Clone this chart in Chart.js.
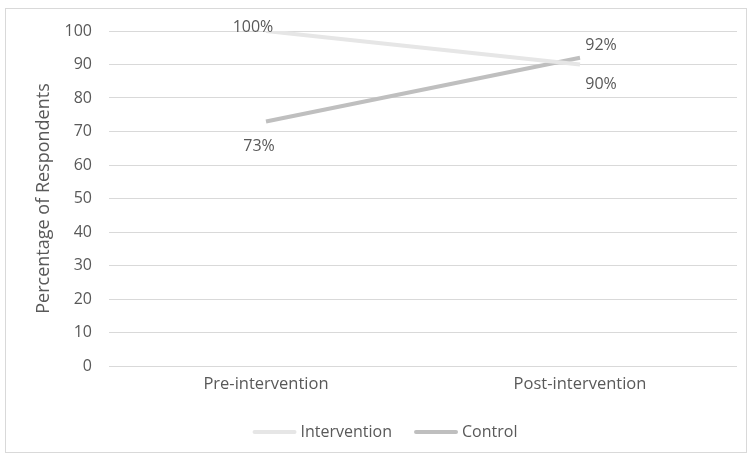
<!DOCTYPE html>
<html>
<head>
<meta charset="utf-8">
<script src="https://cdn.jsdelivr.net/npm/chart.js@4/dist/chart.umd.min.js"></script>
<style>
  html, body { margin: 0; padding: 0; background: #ffffff; }
  #wrap { position: relative; width: 751px; height: 458px; }
</style>
</head>
<body>
<div id="wrap"><canvas id="chart" width="751" height="458"></canvas></div>
<script>
// Survey periods and the share of respondents in each group
const categories = ['Pre-intervention', 'Post-intervention'];
const interventionValues = [100, 90];
const controlValues = [73, 92];
const yTicks = [0, 10, 20, 30, 40, 50, 60, 70, 80, 90, 100];

const FONT = "'Open Sans', 'Liberation Sans', sans-serif";
const TEXT = '#595959';

// Outer frame around the whole chart
const framePlugin = {
  id: 'frame',
  beforeDraw(chart) {
    const ctx = chart.ctx;
    ctx.save();
    ctx.strokeStyle = '#d9d9d9';
    ctx.lineWidth = 1;
    ctx.strokeRect(5.5, 8.5, 741, 444);
    ctx.restore();
  }
};

// Percent labels beside each point, offset per point
const pointLabels = {
  id: 'pointLabels',
  afterDatasetsDraw(chart, args, opts) {
    const ctx = chart.ctx;
    ctx.save();
    ctx.font = `16px ${FONT}`;
    ctx.fillStyle = TEXT;
    ctx.textAlign = 'center';
    ctx.textBaseline = 'middle';
    chart.data.datasets.forEach((ds, di) => {
      const meta = chart.getDatasetMeta(di);
      meta.data.forEach((pt, i) => {
        const off = opts.offsets[di][i];
        ctx.fillText(ds.data[i] + '%', pt.x + off[0], pt.y + off[1]);
      });
    });
    ctx.restore();
  }
};

// Legend row under the axis: a short line swatch followed by the series name
const lineLegend = {
  id: 'lineLegend',
  afterDraw(chart, args, opts) {
    const ctx = chart.ctx;
    ctx.save();
    ctx.font = `16px ${FONT}`;
    ctx.textBaseline = 'middle';
    ctx.textAlign = 'left';
    const items = chart.data.datasets.map(ds => ({
      text: ds.label,
      color: ds.borderColor,
      w: opts.swatch + opts.gap + ctx.measureText(ds.label).width
    }));
    const total = items.reduce((s, it) => s + it.w, 0) + opts.spacing * (items.length - 1);
    let x = opts.centerX - total / 2;
    const y = opts.y;
    items.forEach(it => {
      ctx.strokeStyle = it.color;
      ctx.lineWidth = 4;
      ctx.lineCap = 'round';
      ctx.beginPath();
      ctx.moveTo(x + 2, y);
      ctx.lineTo(x + opts.swatch - 2, y);
      ctx.stroke();
      ctx.fillStyle = TEXT;
      ctx.fillText(it.text, x + opts.swatch + opts.gap, y);
      x += it.w + opts.spacing;
    });
    ctx.restore();
  }
};

new Chart(document.getElementById('chart'), {
  type: 'line',
  data: {
    labels: categories,
    datasets: [
      {
        label: 'Intervention',
        data: interventionValues,
        borderColor: '#e6e6e6',
        backgroundColor: '#e6e6e6',
        borderWidth: 4,
        pointRadius: 0,
        tension: 0
      },
      {
        label: 'Control',
        data: controlValues,
        borderColor: '#bfbfbf',
        backgroundColor: '#bfbfbf',
        borderWidth: 4,
        pointRadius: 0,
        tension: 0
      }
    ]
  },
  options: {
    responsive: false,
    animation: false,
    layout: { padding: { top: 31, right: 14, left: 0, bottom: 52 } },
    scales: {
      x: {
        offset: true,
        grid: { display: false, drawTicks: false },
        border: { display: false },
        ticks: { color: TEXT, font: { family: FONT, size: 16.5 }, padding: 8 },
        afterFit(scale) { scale.height = 40; }
      },
      y: {
        min: 0,
        max: 100,
        afterBuildTicks(scale) { scale.ticks = yTicks.map(v => ({ value: v })); },
        grid: { color: '#d9d9d9', drawTicks: false, lineWidth: 1 },
        border: { display: false },
        ticks: { color: TEXT, font: { family: FONT, size: 16 }, padding: 17 },
        title: {
          display: true,
          text: 'Percentage of Respondents',
          color: TEXT,
          font: { family: FONT, size: 18 },
          padding: { top: 33, bottom: 0 }
        },
        afterFit(scale) { scale.width = 109; }
      }
    },
    plugins: {
      legend: { display: false },
      tooltip: { enabled: false },
      lineLegend: { y: 432, centerX: 385, swatch: 44, gap: 4, spacing: 22 },
      pointLabels: {
        offsets: [
          [[-13, -4], [21, 20]],
          [[-7, 25], [21, -12]]
        ]
      }
    }
  },
  plugins: [framePlugin, pointLabels, lineLegend]
});
</script>
</body>
</html>
